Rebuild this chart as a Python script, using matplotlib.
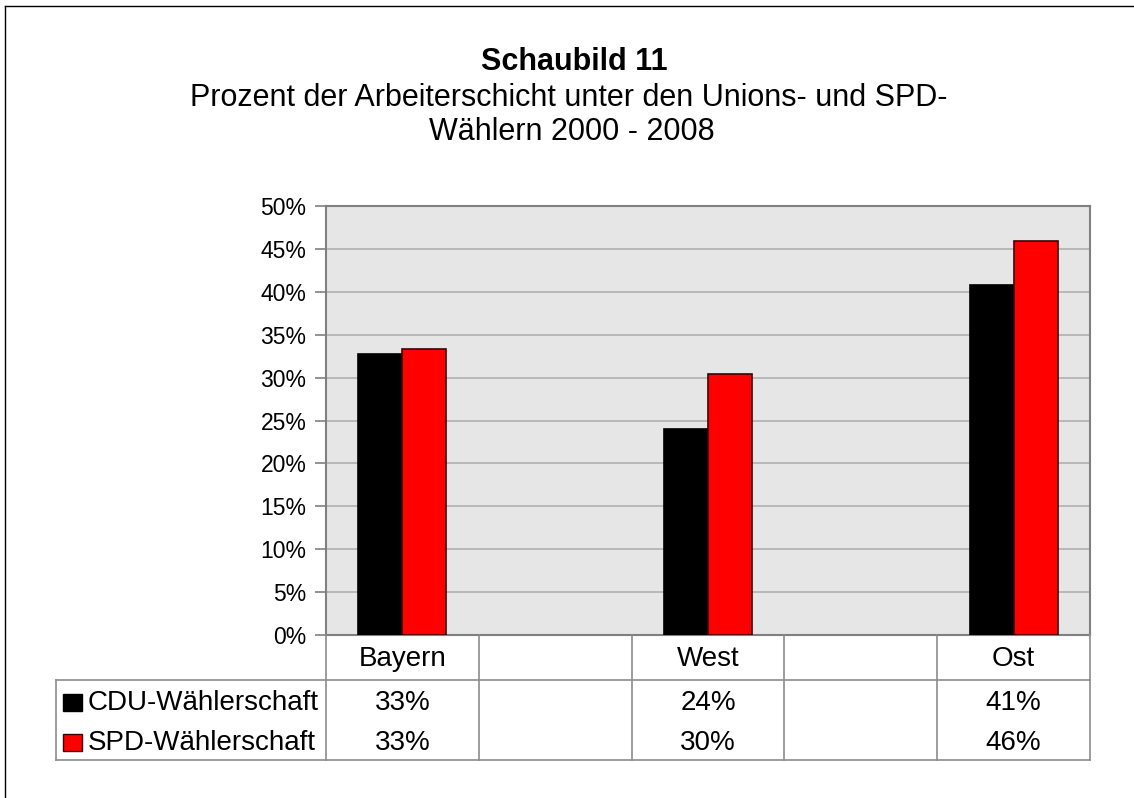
import matplotlib.pyplot as plt
import numpy as np
from matplotlib.lines import Line2D
from matplotlib.patches import Rectangle

plt.rcParams['font.family'] = ['Liberation Sans', 'DejaVu Sans']

categories = ["Bayern", "", "West", "", "Ost"]
series_names = ["CDU-Wählerschaft", "SPD-Wählerschaft"]
cdu = [32.7, np.nan, 24.0, np.nan, 40.8]
spd = [33.3, np.nan, 30.4, np.nan, 45.9]
colors = ["#000000", "#ff0000"]
yticks = [0, 5, 10, 15, 20, 25, 30, 35, 40, 45, 50]

W, H = 1134, 798
fig = plt.figure(figsize=(W / 100, H / 100), dpi=100)


def fx(x):
    return x / W


def fy(y):
    return 1 - y / H


# plot area in pixel coords
left, right, top, bottom = 326, 1090, 206, 635
ax = fig.add_axes([fx(left), fy(bottom), (right - left) / W, (bottom - top) / H])
ax.set_facecolor("#e6e6e6")

x = np.arange(len(categories))
bw = 0.288
ax.bar(x - bw / 2, cdu, bw, color=colors[0], edgecolor="#000000", linewidth=1.2, zorder=3)
ax.bar(x + bw / 2, spd, bw, color=colors[1], edgecolor="#400000", linewidth=1.2, zorder=3)

ax.set_xlim(-0.5, len(categories) - 0.5)
ax.set_ylim(0, 50)
ax.set_yticks(yticks)
ax.set_yticklabels([f"{t}%" for t in yticks], fontsize=16.5)
ax.yaxis.grid(True, color="#b0b0b0", linewidth=1.2, zorder=0)
ax.set_xticks([])
for s in ax.spines.values():
    s.set_color("#808080")
    s.set_linewidth(1.5)
ax.tick_params(axis="y", length=8, color="#808080", width=1.2, pad=6)

# data table below the plot
tc = "#8c8c8c"
col_w = (right - left) / len(categories)
col_x = [left + i * col_w for i in range(len(categories) + 1)]
for cx in col_x:
    fig.add_artist(Line2D([fx(cx), fx(cx)], [fy(635), fy(760)], color=tc, lw=1.2))
for ry in (680, 760):
    fig.add_artist(Line2D([fx(56), fx(right)], [fy(ry), fy(ry)], color=tc, lw=1.2))
fig.add_artist(Line2D([fx(56), fx(56)], [fy(680), fy(760)], color=tc, lw=1.2))

for i, c in enumerate(categories):
    cx = left + (i + 0.5) * col_w
    fig.text(fx(cx), fy(659), c, ha="center", va="center", fontsize=20)
    for vals, ry in ((cdu, 703), (spd, 743)):
        if not np.isnan(vals[i]):
            fig.text(fx(cx), fy(ry), f"{round(vals[i])}%", ha="center", va="center", fontsize=20)

for name, col, ec, ry in ((series_names[0], colors[0], "#000000", 703), (series_names[1], colors[1], "#400000", 743)):
    fig.add_artist(Rectangle((fx(63), fy(ry + 8)), 19 / W, 17 / H, facecolor=col, edgecolor=ec, lw=1))
    fig.text(fx(88), fy(ry), name, ha="left", va="center", fontsize=20)

# titles
fig.text(fx(574), fy(62), "Schaubild 11", ha="center", va="center", fontsize=22, fontweight="bold")
fig.text(fx(569), fy(98), "Prozent der Arbeiterschicht unter den Unions- und SPD-", ha="center", va="center", fontsize=22)
fig.text(fx(572), fy(132), "Wählern 2000 - 2008", ha="center", va="center", fontsize=22)

# outer frame (partially visible)
fig.add_artist(Line2D([fx(5), 1], [fy(6), fy(6)], color="#000000", lw=1))
fig.add_artist(Line2D([fx(5), fx(5)], [fy(6), 0], color="#000000", lw=1))

fig.savefig("out.png", dpi=100)
